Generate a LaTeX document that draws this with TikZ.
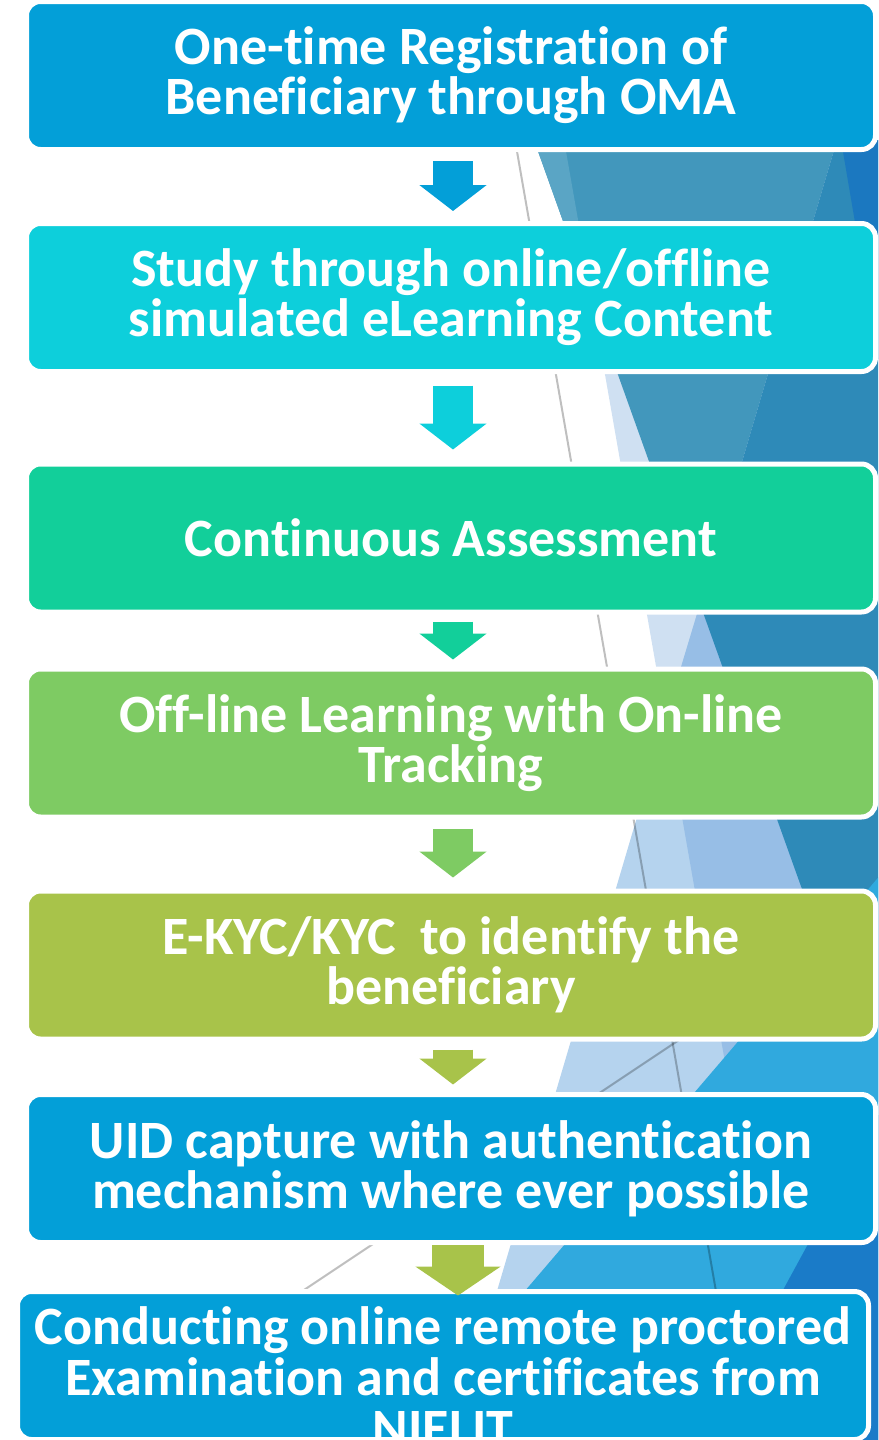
\documentclass[tikz,border=0pt]{standalone}
\usepackage{fontspec}
\setmainfont{Carlito}[Ligatures=NoCommon]
\usetikzlibrary{arrows.meta,calc}

\definecolor{stepblue}{HTML}{039FD8}
\definecolor{stepcyan}{HTML}{0DCFDB}
\definecolor{stepteal}{HTML}{12CF9A}
\definecolor{stepgreen}{HTML}{7ECB63}
\definecolor{stepolive}{HTML}{A8C34A}
% background facet colours
\definecolor{palefacet}{HTML}{CFE0F2}
\definecolor{lightfacet}{HTML}{B5D3EE}
\definecolor{overlapfacet}{HTML}{97BEE6}
\definecolor{midfacet}{HTML}{4297BC}
\definecolor{stripfacet}{HTML}{5AA5C5}
\definecolor{darkfacet}{HTML}{2E8AB8}
\definecolor{edgefacet}{HTML}{1B78C0}
\definecolor{brightfacet}{HTML}{30A9DE}
\definecolor{deepfacet}{HTML}{1A7BC8}

\tikzset{
  stepbox/.style={draw=white, line width=2.5pt, rounded corners=7pt,
    minimum width=424.5pt, minimum height=74pt, inner sep=0pt,
    text=white, align=center, font=\fontsize{27}{25}\selectfont\bfseries},
  steptext/.style={text=white, align=center, inner sep=0pt,
    font=\fontsize{27}{25.5}\selectfont\bfseries},
  flow/.style={line width=20pt, -{Triangle[width=33pt,length=13pt]}},
  flowwide/.style={line width=26pt, -{Triangle[width=42pt,length=14.5pt]}},
  facetline/.style={black, opacity=0.25, line width=1pt},
}

\begin{document}
\begin{tikzpicture}[x=0.5pt, y=-0.5pt]
\useasboundingbox (0,0) rectangle (878,1440);
\clip (0,0) rectangle (878,1440);

% background facets
\fill[palefacet] (564,140) -- (900,140) -- (900,1450) -- (793,1450) -- cycle;
\fill[lightfacet] (700,604) -- (900,604) -- (900,1450) -- (450,1450) -- cycle;
\fill[overlapfacet] (700,604) -- (900,604) -- (900,1450) -- (793,1450) -- (665,720) -- cycle;
\fill[midfacet] (534,140) -- (837,140) -- (700,604) -- cycle;
\fill[stripfacet] (534,140) -- (564,140) -- (593,305) -- cycle;
\fill[darkfacet] (837,140) -- (900,140) -- (900,1163) -- (700,604) -- cycle;
\fill[edgefacet] (841,140) -- (900,140) -- (900,487) -- cycle;
\fill[brightfacet] (900,852) -- (900,1450) -- (389,1450) -- cycle;
\fill[deepfacet] (900,1075) -- (900,1450) -- (696,1450) -- cycle;
\draw[facetline] (515,140) -- (721,1320);
\draw[facetline] (700,1026) -- (280,1306);

% steps
\node[stepbox, fill=stepblue] (b1) at (451,75.5) {One-time Registration of\\Beneficiary through OMA};
\node[stepbox, fill=stepcyan] (b2) at (451,297.5) {Study through online/offline\\simulated eLearning Content};
\node[stepbox, fill=stepteal] (b3) at (451,538) {Continuous Assessment};
\node[stepbox, fill=stepgreen] (b4) at (451,743) {Off-line Learning with On-line\\Tracking};
\node[stepbox, fill=stepolive] (b5) at (451,965) {E-KYC/KYC~ to identify the\\beneficiary};
\node[stepbox, fill=stepblue] (b6) at (451,1168.5) {UID capture with authentication\\mechanism where ever possible};
\node[stepbox, fill=stepblue, minimum width=425.5pt] (b7) at (443,1365.5) {};
\node[steptext] (t7) at (443,1377) {Conducting online remote proctored\\Examination and certificates from\\NIELIT};

% arrows between steps
\draw[flow, stepblue] ($(b1.south)+(2,9)$) -- ($(b2.north)+(2,-10)$);
\draw[flow, stepcyan] ($(b2.south)+(2,11.5)$) -- ($(b3.north)+(2,-12)$);
\draw[flow, stepteal] ($(b3.south)+(2,7)$) -- ($(b4.north)+(2,-7)$);
\draw[flow, stepgreen] ($(b4.south)+(2,9)$) -- ($(b5.north)+(2,-11)$);
\draw[flow, stepolive] ($(b5.south)+(2,8)$) -- ($(b6.north)+(2,-7.5)$);
\draw[flowwide, stepolive] ($(b6.south)+(7,0)$) -- ($(b7.north)+(15,6.5)$);
\end{tikzpicture}
\end{document}
